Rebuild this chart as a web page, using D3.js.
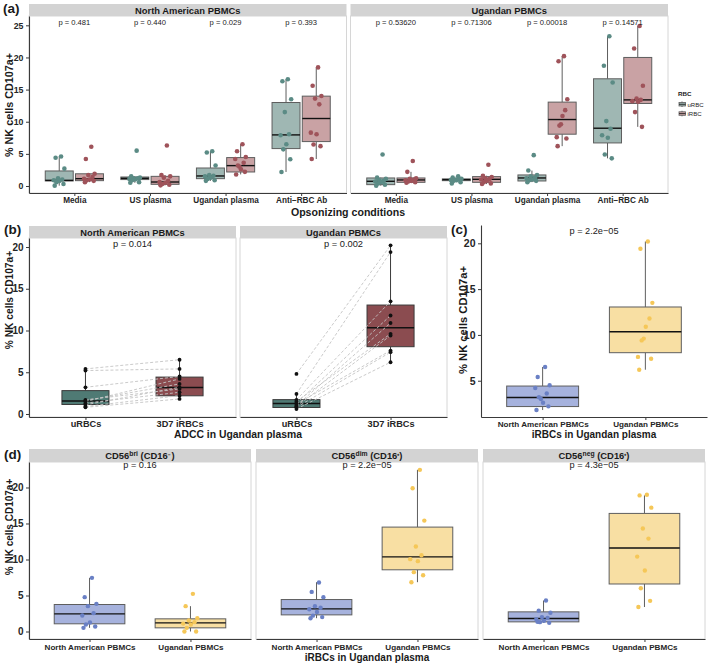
<!DOCTYPE html>
<html>
<head>
<meta charset="utf-8">
<script src="https://cdn.jsdelivr.net/npm/d3@7"></script>
<style>
  body { margin: 0; background: #fff; }
  text { font-family: "Liberation Sans", Arial, Helvetica, sans-serif; }
</style>
</head>
<body>
<script>
// ---------- data ----------
const conditions = ["Media", "US plasma", "Ugandan plasma", "Anti\u2212RBC Ab"];
const rbcGroups = ["uRBC", "iRBC"];
const adccCats = ["uRBCs", "3D7 iRBCs"];
const donorCats = ["North American PBMCs", "Ugandan PBMCs"];

// (a) North American PBMCs, one array per condition (same donor order everywhere)
const naURBC = [
  [4.6, 4.4, 2.7, 1.2, 1.0, 0.9, 0.8, 0.6, 0.3, 0.05],
  [5.5, 1.5, 1.3, 1.2, 1.2, 1.1, 1.0, 0.9, 0.6, 0.5],
  [5.4, 5.2, 3.2, 1.7, 1.6, 1.5, 1.3, 1.1, 0.9, 0.8],
  [16.6, 16.3, 13.5, 11.5, 8.05, 7.9, 6.5, 5.7, 4.16, 2.18]
];
const naIRBC = [
  [6.1, 4.2, 1.9, 1.7, 1.4, 1.1, 1.0, 0.9, 0.8, 0.6],
  [6.3, 1.7, 1.5, 1.3, 0.8, 0.6, 0.5, 0.3, 0.2, 0.1],
  [6.5, 5.4, 4.5, 3.0, 3.6, 4.2, 2.6, 3.2, 2.2, 1.8],
  [18.45, 15.6, 14.0, 13.6, 12.7, 8.3, 8.05, 6.45, 6.2, 4.2]
];
// box stats: [lower whisker, q1, median, q3, upper whisker]
const naURBCBox = [[0.05, 0.78, 0.88, 2.34, 4.6], [0.5, 1.0, 1.2, 1.4, 1.5], [0.8, 1.14, 1.56, 2.8, 5.3], [2.18, 5.82, 7.95, 12.99, 16.6]];
const naIRBCBox = [[0.6, 0.83, 1.14, 1.9, 2.0], [0.1, 0.26, 0.62, 1.5, 1.7], [1.8, 2.18, 3.17, 4.42, 6.5], [4.2, 6.91, 10.5, 13.98, 18.45]];

// (a) Ugandan PBMCs
const ugURBC = [
  [4.9, 1.3, 1.1, 0.9, 0.8, 0.7, 0.6, 0.4, 0.2, 0.05],
  [1.5, 1.3, 1.1, 1.0, 1.0, 0.95, 0.9, 0.8, 0.6, 0.4],
  [4.8, 2.4, 1.7, 1.5, 1.3, 1.2, 1.0, 0.9, 0.8, 0.6],
  [23.3, 18.7, 16.1, 10.1, 8.9, 7.9, 7.5, 4.9, 4.3]
];
const ugIRBC = [
  [3.9, 2.2, 1.2, 1.1, 1.0, 0.9, 0.8, 0.7, 0.6, 0.5],
  [3.3, 1.6, 1.4, 1.2, 1.1, 1.0, 0.8, 0.6, 0.4, 0.3],
  [20.2, 19.4, 13.5, 9.6, 11.8, 7.6, 10.9, 9.4, 7.4, 6.2],
  [24.9, 21.4, 15.6, 13.6, 13.4, 13.2, 13.1, 11.5, 9.2]
];
const ugURBCBox = [[0.05, 0.21, 0.73, 1.25, 1.3], [0.6, 0.83, 0.99, 1.1, 1.3], [0.6, 0.78, 1.25, 1.72, 2.4], [4.3, 6.7, 8.99, 16.68, 23.3]];
const ugIRBCBox = [[0.5, 0.57, 0.94, 1.25, 2.2], [0.3, 0.57, 1.04, 1.46, 1.6], [6.2, 8.06, 10.34, 13.05, 20.2], [9.2, 12.84, 13.4, 20.0, 24.9]];

const pNorthAm = ["p = 0.481", "p = 0.440", "p = 0.029", "p = 0.393"];
const pUganda = ["p = 0.53620", "p = 0.71306", "p = 0.00018", "p = 0.14571"];
const pAdcc = ["p = 0.014", "p = 0.002"];
const pDonor = "p = 2.2e\u221205";

// (d) NK subsets, iRBCs in Ugandan plasma
const subsets = ["bri", "dim", "neg"];
const subsetCD16 = ["\u207B ", "\u207A", "\u207A"];
const subsetNA = [
  [7.45, 4.77, 3.84, 3.52, 2.55, 2.22, 1.25, 0.97, 0.69, 0.51],
  [6.8, 5.5, 4.77, 3.52, 3.3, 3.1, 2.7, 2.2, 2.0, 1.85],
  [4.3, 2.9, 2.6, 2.0, 1.9, 1.7, 1.5, 1.3, 1.2, 1.35]
];
const subsetUG = [
  [5.23, 3.52, 1.85, 1.53, 1.3, 1.1, 0.97, 0.51, 0.0, 0.0],
  [22.45, 19.9, 15.4, 11.8, 10.6, 10.05, 9.77, 8.24, 7.82, 6.85],
  [19.0, 18.9, 17.2, 14.3, 12.9, 10.4, 8.47, 6.0, 4.26, 3.4]
];
const subsetNABox = [[0.51, 1.07, 2.45, 3.75, 7.45], [1.85, 2.31, 3.15, 4.44, 6.85], [1.2, 1.34, 1.8, 2.73, 4.3]];
const subsetUGBox = [[0, 0.51, 1.2, 1.76, 3.52], [6.85, 8.57, 10.37, 14.5, 22.45], [3.4, 6.6, 11.6, 16.4, 18.9]];
const pSubset = ["p = 0.16", "p = 2.2e\u221205", "p = 4.3e\u221205"];

// ---------- style ----------
const col = {
  teal: "#5b8b85", tealFill: "#9fb7b3", red: "#9f535a", redFill: "#c9a2a4",
  tealDark: "#4f7a74", redDark: "#8b4c50",
  blue: "#6a80c5", blueFill: "#a6b2dd", yellow: "#f5c758", yellowFill: "#f8dfa3"
};
const jit = [0.3, -0.6, 0.85, -0.2, 0.5, -0.9, 0.05, -0.45, 0.7, -0.75];

const svg = d3.select("body").append("svg").attr("width", 709).attr("height", 666);

function styleAxis(g, size) {
  g.attr("font-family", null).attr("font-size", null);
  g.select(".domain").attr("stroke", "#3a3a3a").attr("stroke-width", 1.1);
  g.selectAll(".tick line").attr("stroke", "#3a3a3a");
  g.selectAll(".tick text").attr("font-size", size).attr("font-weight", "bold").attr("fill", "#262626");
}

function facet(o) {
  const x = d3.scalePoint().domain(o.cats).range([o.x0, o.x1]).padding(0.6);
  const y = d3.scaleLinear().domain(o.yDomain).range([o.y1, o.y0]);
  if (o.border) {
    svg.append("rect").attr("x", o.x0).attr("y", o.y0).attr("width", o.x1 - o.x0).attr("height", o.y1 - o.y0)
      .attr("fill", "none").attr("stroke", "#d6d6d6");
  }
  if (o.strip) {
    svg.append("rect").attr("x", o.x0).attr("y", o.y0 - o.stripH).attr("width", o.x1 - o.x0).attr("height", o.stripH)
      .attr("fill", "#d3d3d3");
    const t = svg.append("text").attr("x", (o.x0 + o.x1) / 2).attr("y", o.y0 - o.stripH + o.stripBase)
      .attr("text-anchor", "middle").attr("font-size", o.stripFont).attr("font-weight", "bold").attr("fill", "#1a1a1a");
    o.strip(t);
  }
  const ax = svg.append("g").attr("transform", `translate(0,${o.y1})`)
    .call(d3.axisBottom(x).tickSize(3).tickSizeOuter(0).tickPadding(o.xPad));
  styleAxis(ax, o.xFont);
  if (o.yTicks) {
    const ay = svg.append("g").attr("transform", `translate(${o.x0},0)`)
      .call(d3.axisLeft(y).tickValues(o.yTicks).tickSize(3).tickSizeOuter(0).tickPadding(2.5));
    styleAxis(ay, o.yFont);
  }
  return { x, y, step: x.step() };
}

function drawBox(s, cx, w, y, fill, stroke, medW) {
  const [lo, q1, med, q3, hi] = s;
  const g = svg.append("g");
  g.append("line").attr("x1", cx).attr("x2", cx).attr("y1", y(hi)).attr("y2", y(q3)).attr("stroke", stroke);
  g.append("line").attr("x1", cx).attr("x2", cx).attr("y1", y(q1)).attr("y2", y(lo)).attr("stroke", stroke);
  g.append("rect").attr("x", cx - w / 2).attr("y", y(q3)).attr("width", w).attr("height", y(q1) - y(q3))
    .attr("fill", fill).attr("stroke", stroke);
  g.append("line").attr("x1", cx - w / 2).attr("x2", cx + w / 2).attr("y1", y(med)).attr("y2", y(med))
    .attr("stroke", "#111").attr("stroke-width", medW);
}

function drawPoints(vals, cx, spread, y, color, r) {
  svg.append("g").selectAll("circle").data(vals).join("circle")
    .attr("cx", (d, i) => cx + jit[i % jit.length] * spread)
    .attr("cy", d => y(d)).attr("r", r).attr("fill", color);
}

function label(txt, x, y, size, opts = {}) {
  return svg.append("text").attr("x", x).attr("y", y).attr("font-size", size)
    .attr("font-weight", opts.weight || "normal").attr("text-anchor", opts.anchor || "middle")
    .attr("fill", opts.fill || "#1a1a1a").attr("transform", opts.rotate ? `rotate(-90,${x},${y})` : null)
    .text(txt);
}

const yTitle = "% NK cells CD107a+";

// ---------- (a) ----------
[["North American PBMCs", naURBC, naIRBC, naURBCBox, naIRBCBox, pNorthAm, 29, 346.5],
 ["Ugandan PBMCs", ugURBC, ugIRBC, ugURBCBox, ugIRBCBox, pUganda, 350.5, 668]]
  .forEach(([name, u, ir, ub, ib, ps, x0, x1], k) => {
    const f = facet({
      x0, x1, y0: 16, y1: 193, cats: conditions, yDomain: [-1.09, 26.45],
      yTicks: k === 0 ? [0, 5, 10, 15, 20, 25] : null, yFont: 8.8, xFont: 8.2, xPad: 1.3,
      border: true, stripH: 12, stripBase: 9.6, stripFont: 9.4, strip: t => t.text(name)
    });
    const off = 0.2 * f.step, w = 0.37 * f.step;
    conditions.forEach((c, j) => {
      const cx = f.x(c);
      drawBox(ub[j], cx - off, w, f.y, col.tealFill, "#5e5e5e", 1.4);
      drawBox(ib[j], cx + off, w, f.y, col.redFill, "#5e5e5e", 1.4);
      drawPoints(u[j], cx - off, 0.08 * f.step, f.y, col.teal, 2.3);
      drawPoints(ir[j], cx + off, 0.08 * f.step, f.y, col.red, 2.3);
      label(ps[j], cx, 25, 7.6);
    });
  });
label("Opsonizing conditions", 348, 215.5, 10.6, { weight: "bold" });
label(yTitle, 12.5, 105, 10.8, { weight: "bold", rotate: true });
label("(a)", 3, 13, 13.5, { weight: "bold", anchor: "start" });

// legend
label("RBC", 678, 96, 6.2, { weight: "bold", anchor: "start" });
[[col.tealFill, "uRBC"], [col.redFill, "iRBC"]].forEach(([fill, name], i) => {
  const ky = 101.5 + i * 9.3;
  svg.append("line").attr("x1", 682).attr("x2", 682).attr("y1", ky).attr("y2", ky + 5.5).attr("stroke", "#5e5e5e");
  svg.append("rect").attr("x", 679).attr("y", ky + 1).attr("width", 6.5).attr("height", 3.5)
    .attr("fill", fill).attr("stroke", "#5e5e5e").attr("stroke-width", 0.8);
  svg.append("line").attr("x1", 679).attr("x2", 685.5).attr("y1", ky + 2.8).attr("y2", ky + 2.8).attr("stroke", "#111").attr("stroke-width", 0.8);
  label(name, 687.5, ky + 5, 6, { anchor: "start" });
});

// ---------- (b) ----------
[["North American PBMCs", naURBC[2], naIRBC[2], naURBCBox[2], naIRBCBox[2], 29, 236],
 ["Ugandan PBMCs", ugURBC[2], ugIRBC[2], ugURBCBox[2], ugIRBCBox[2], 240, 447]]
  .forEach(([name, u, ir, ub, ib, x0, x1], k) => {
    const f = facet({
      x0, x1, y0: 238, y1: 417, cats: adccCats, yDomain: [-0.36, 21.08],
      yTicks: k === 0 ? [0, 5, 10, 15, 20] : null, yFont: 10, xFont: 9.2, xPad: 0.8,
      border: true, stripH: 12, stripBase: 9.8, stripFont: 9.3, strip: t => t.text(name)
    });
    const w = 0.5 * f.step, xa = f.x(adccCats[0]), xb = f.x(adccCats[1]);
    drawBox(ub, xa, w, f.y, col.tealDark, "#3a3a3a", 1.5);
    drawBox(ib, xb, w, f.y, col.redDark, "#3a3a3a", 1.5);
    svg.append("g").selectAll("line").data(u).join("line")
      .attr("x1", xa).attr("x2", xb).attr("y1", d => f.y(d)).attr("y2", (d, i) => f.y(ir[i]))
      .attr("stroke", "#c4c4c4").attr("stroke-width", 0.9).attr("stroke-dasharray", "3,2");
    drawPoints(u, xa, 0, f.y, "#111", 1.9);
    drawPoints(ir, xb, 0, f.y, "#111", 1.9);
    label(pAdcc[k], (x0 + x1) / 2, 247, 9.3);
  });
label("ADCC in Ugandan plasma", 238, 437.5, 10.4, { weight: "bold" });
label(yTitle, 13, 300, 10.2, { weight: "bold", rotate: true });
label("(b)", 4, 233.5, 13.5, { weight: "bold", anchor: "start" });

// ---------- (c) ----------
{
  const f = facet({
    x0: 481, x1: 707, y0: 225, y1: 417, cats: donorCats, yDomain: [1.04, 22.0],
    yTicks: [5, 10, 15, 20], yFont: 10.5, xFont: 8.1, xPad: 1.5, border: false
  });
  const w = 0.7 * f.step;
  drawBox(naIRBCBox[2], f.x(donorCats[0]), w, f.y, col.blueFill, "#5e5e5e", 1.4);
  drawBox(ugIRBCBox[2], f.x(donorCats[1]), w, f.y, col.yellowFill, "#5e5e5e", 1.4);
  drawPoints(naIRBC[2], f.x(donorCats[0]), 0.08 * f.step, f.y, col.blue, 2.2);
  drawPoints(ugIRBC[2], f.x(donorCats[1]), 0.08 * f.step, f.y, col.yellow, 2.2);
  label(pDonor, 594, 234, 9.2);
  label("iRBCs in Ugandan plasma", 594, 437.5, 10, { weight: "bold" });
  label(yTitle, 466.5, 320, 11.2, { weight: "bold", rotate: true });
  label("(c)", 451, 233.5, 13.5, { weight: "bold", anchor: "start" });
}

// ---------- (d) ----------
[[29, 251], [256, 478], [483, 705]].forEach(([x0, x1], k) => {
  const f = facet({
    x0, x1, y0: 462, y1: 639, cats: donorCats, yDomain: [-1.04, 23.54],
    yTicks: k === 0 ? [0, 5, 10, 15, 20] : null, yFont: 10, xFont: 8.1, xPad: 2,
    border: true, stripH: 13, stripBase: 10.3, stripFont: 9.4,
    strip: t => {
      t.append("tspan").text("CD56");
      t.append("tspan").attr("font-size", 6.8).attr("dy", -3.5).text(subsets[k]);
      t.append("tspan").attr("dy", 3.5).text("  (CD16");
      t.append("tspan").attr("font-size", 7).text(subsetCD16[k]);
      t.append("tspan").text(")");
    }
  });
  const w = 0.7 * f.step;
  drawBox(subsetNABox[k], f.x(donorCats[0]), w, f.y, col.blueFill, "#5e5e5e", 1.4);
  drawBox(subsetUGBox[k], f.x(donorCats[1]), w, f.y, col.yellowFill, "#5e5e5e", 1.4);
  drawPoints(subsetNA[k], f.x(donorCats[0]), 0.08 * f.step, f.y, col.blue, 2.2);
  drawPoints(subsetUG[k], f.x(donorCats[1]), 0.08 * f.step, f.y, col.yellow, 2.2);
  label(pSubset[k], (x0 + x1) / 2, 468, 9.2);
});
label("iRBCs in Ugandan plasma", 367, 660.5, 10, { weight: "bold" });
label(yTitle, 13, 527, 10, { weight: "bold", rotate: true });
label("(d)", 4, 458.5, 13.5, { weight: "bold", anchor: "start" });
</script>
</body>
</html>
